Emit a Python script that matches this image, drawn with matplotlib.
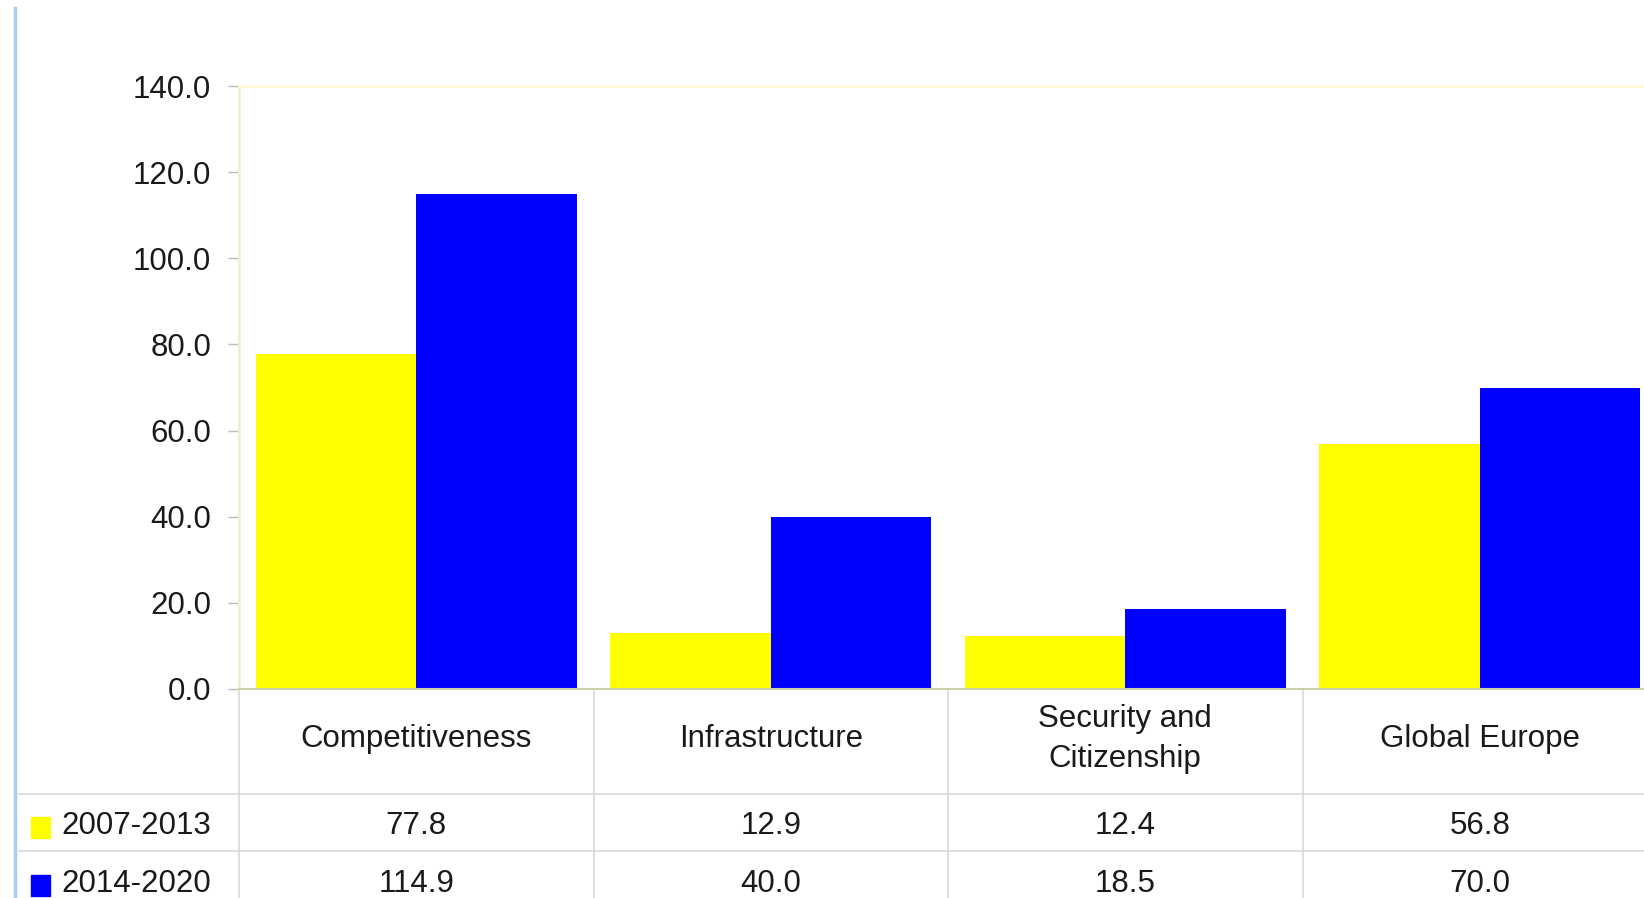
import numpy as np
import matplotlib
matplotlib.use('Agg')
import matplotlib.pyplot as plt
from matplotlib.lines import Line2D
from matplotlib.patches import Rectangle
import matplotlib.transforms as mtransforms

plt.rcParams['font.family'] = ['Liberation Sans', 'DejaVu Sans']

# data
categories = ['Competitiveness', 'Infrastructure', 'Security and\nCitizenship', 'Global Europe']
series_names = ['2007-2013', '2014-2020']
values_0713 = [77.8, 12.9, 12.4, 56.8]
values_1420 = [114.9, 40.0, 18.5, 70.0]
series_colors = ['#ffff00', '#0000ff']
yticks = [0, 20, 40, 60, 80, 100, 120, 140]

txt_col = '#1a1a1a'
grid_col = '#d9d9d9'
fs = 22.5

W, H = 1644, 898
fig = plt.figure(figsize=(W / 100, H / 100), dpi=100)
fig.patch.set_facecolor('white')

# axes placed in pixels of the reference
ax_l, ax_t, ax_b = 239, 86, 689
cat_w = 354.5
ax = fig.add_axes([ax_l / W, 1 - ax_b / H, 4 * cat_w / W, (ax_b - ax_t) / H])

x = np.arange(len(categories))
bw = 0.453
ax.bar(x - bw / 2, values_0713, bw, color=series_colors[0], linewidth=0, zorder=2)
ax.bar(x + bw / 2, values_1420, bw, color=series_colors[1], linewidth=0, zorder=2)

ax.set_xlim(-0.5, len(categories) - 0.5)
ax.set_ylim(0, 140)
ax.set_yticks(yticks)
ax.set_yticklabels(['%.1f' % v for v in yticks], fontsize=fs, color=txt_col)
ax.tick_params(axis='y', length=8, width=1, color='#bbbbbb', pad=12)
ax.set_xticks([])

ax.spines['right'].set_visible(False)
ax.spines['top'].set_color('#fffbd6')
ax.spines['top'].set_linewidth(2)
ax.spines['left'].set_color('#efefcf')
ax.spines['left'].set_linewidth(2)
ax.spines['bottom'].set_color('#cfcfa8')
ax.spines['bottom'].set_linewidth(1.5)
ax.spines['bottom'].set_zorder(3)

# data table under the plot
ax_h = ax_b - ax_t
def ypx(py):
    # pixel row of the reference -> axes fraction
    return (ax_b - py) / ax_h

trans = mtransforms.blended_transform_factory(ax.transData, ax.transAxes)
left_x = -0.5 - (ax_l - 19) / cat_w

for xv in np.arange(-0.5, len(categories), 1.0):
    ax.add_line(Line2D([xv, xv], [0, ypx(H + 5)], transform=trans,
                       color=grid_col, lw=1.2, clip_on=False))
for py in [794, 851]:
    ax.add_line(Line2D([left_x, len(categories)], [ypx(py)] * 2, transform=trans,
                       color=grid_col, lw=1.2, clip_on=False))

for i, c in enumerate(categories):
    ax.text(i, ypx(739), c, transform=trans, ha='center', va='center',
            fontsize=fs, color=txt_col, linespacing=1.45, clip_on=False)

row_y = [826, 884]
for r, (name, vals, col) in enumerate(zip(series_names, [values_0713, values_1420], series_colors)):
    yy = ypx(row_y[r])
    for i, v in enumerate(vals):
        ax.text(i, yy, '%.1f' % v, transform=trans, ha='center', va='center',
                fontsize=fs, color=txt_col, clip_on=False)
    fig.patches.append(Rectangle((31 / W, 1 - (row_y[r] + 12) / H), 19 / W, 21 / H,
                                 transform=fig.transFigure, color=col, zorder=3))
    fig.text(61 / W, 1 - row_y[r] / H, name, ha='left', va='center',
             fontsize=fs, color=txt_col)

# left frame line
fig.add_artist(Line2D([15 / W, 15 / W], [1 - 8 / H, 0], transform=fig.transFigure,
                      color='#a9cfee', lw=2.5))

fig.savefig('out.png', dpi=100)
